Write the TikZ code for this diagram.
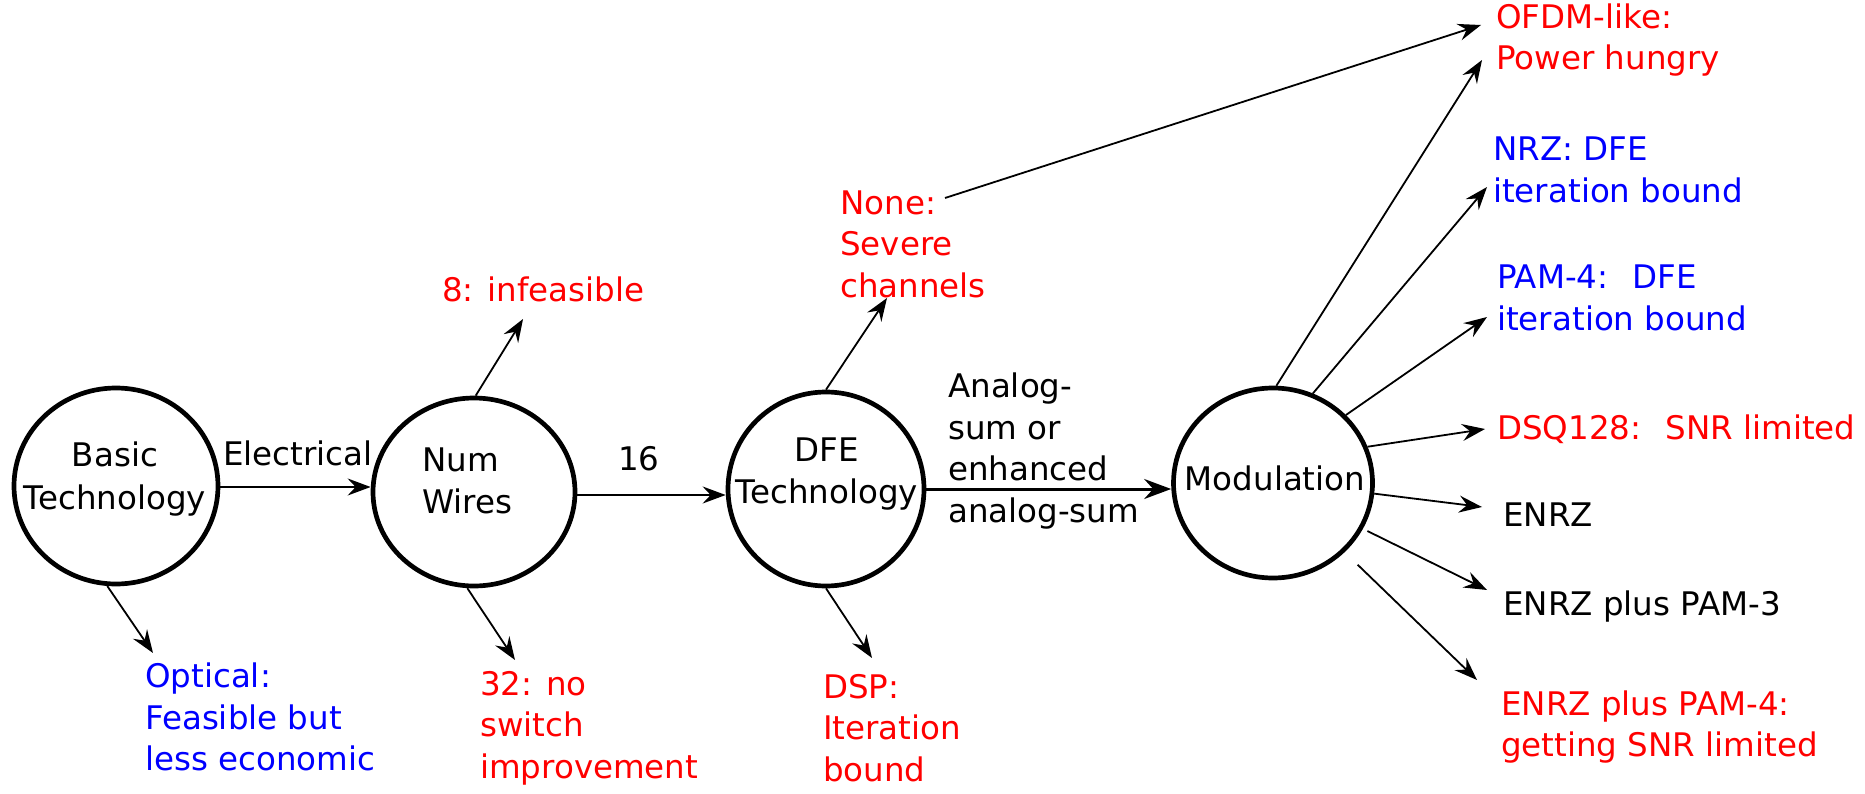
\documentclass[tikz,border=0pt]{standalone}
\usepackage{fontspec}
\setmainfont{DejaVu Sans}
\usetikzlibrary{shapes.geometric,arrows.meta}
\definecolor{tred}{RGB}{255,0,0}
\definecolor{tblue}{RGB}{0,0,255}
\begin{document}
\begin{tikzpicture}[x=1pt,y=-1pt,
  txt/.style={font=\fontsize{32.5}{41.5}\selectfont, inner sep=0pt, align=left, anchor=west},
  ctxt/.style={font=\fontsize{32.5}{42.5}\selectfont, inner sep=0pt, align=center},
  state/.style={draw, ellipse, line width=4.7pt, inner sep=0pt},
  arr/.style={-{Stealth[length=23pt,width=17pt,inset=8pt]}, line width=1.8pt},
  mainarr/.style={arr, line width=2.2pt},
  bigarr/.style={-{Stealth[length=27pt,width=20pt,inset=9pt]}, line width=3pt}]
\useasboundingbox (0,0) rectangle (1865,794);
% circles
\node[state, minimum width=204pt, minimum height=196pt] (basic) at (116,486) {};
\node[state, minimum width=202pt, minimum height=188pt] (wires) at (474,492) {};
\node[state, minimum width=196pt, minimum height=194pt] (dfe) at (826,489) {};
\node[state, minimum width=199pt, minimum height=190pt] (mod) at (1273,483) {};
\node[ctxt] (basict) at (115,479) {Basic\\Technology};
\node[txt] (wirest) at (422,481) {Num\\Wires};
\node[ctxt] (dfet) at (827,474) {DFE\\Technology};
\node[ctxt] (modt) at (1275,478) {Modulation};
% labels
\node[txt] (elec) at (223,453) {Electrical};
\node[txt] (sixteen) at (618,459) {16};
\node[txt] (analog) at (948,451) {Analog-\\sum or\\enhanced\\analog-sum};
% outcomes
\node[txt, text=tblue] (optical) at (145,717) {Optical:\\Feasible but\\less economic};
\node[txt, text=tred] (thirtytwo) at (480,728) {32: no\\switch\\improvement};
\node[txt, text=tred] (eight) at (442,289) {8: infeasible};
\node[txt, text=tred] (none) at (840,244) {None:\\Severe\\channels};
\node[txt, text=tred] (dsp) at (823,728) {DSP:\\Iteration\\bound};
\node[txt, text=tred] (ofdm) at (1496,40) {OFDM-like:\\Power hungry};
\node[txt, text=tblue] (nrz) at (1493,170) {NRZ: DFE\\iteration bound};
\node[txt, text=tblue] (pamfour) at (1497,298) {PAM-4:~ DFE\\iteration bound};
\node[txt, text=tred] (dsq) at (1497,429) {DSQ128:~ SNR limited};
\node[txt] (enrz) at (1503,515) {ENRZ};
\node[txt] (enrzthree) at (1503,607) {ENRZ plus PAM-3};
\node[txt, text=tred] (enrzfour) at (1501,727) {ENRZ plus PAM-4:\\getting SNR limited};
% arrow end points
\coordinate (eOpt) at (153,653);
\coordinate (eEight) at (523,319);
\coordinate (eTT) at (515,660);
\coordinate (eNone) at (887,298);
\coordinate (eDsp) at (872,658);
\coordinate (sNone) at (945,198);
\coordinate (eOfdmA) at (1481,25);
\coordinate (eOfdmB) at (1482,60);
\coordinate (eNrz) at (1487,187);
\coordinate (ePam) at (1487,317);
\coordinate (eDsq) at (1485,429);
\coordinate (eEnrz) at (1482,507);
\coordinate (eThree) at (1487,590);
\coordinate (eFour) at (1477,680);
% main chain
\draw[mainarr] (basic.east |- 0,487) -- (wires.west |- 0,487);
\draw[mainarr] (wires.east |- 0,495) -- (dfe.west |- 0,495);
\draw[bigarr] (dfe.east |- 0,489) -- (mod.west |- 0,489);
% branches
\draw[arr] (basic.-95) -- (eOpt);
\draw[arr] (wires.89) -- (eEight);
\draw[arr] (wires.-94) -- (eTT);
\draw[arr] (dfe.90) -- (eNone);
\draw[arr] (dfe.-90) -- (eDsp);
\draw[arr] (sNone) -- (eOfdmA);
\draw[arr] (mod.88) -- (eOfdmB);
\draw[arr] (mod.66) -- (eNrz);
\draw[arr] (mod.43) -- (ePam);
\draw[arr] (mod.21) -- (eDsq);
\draw[arr] (mod.-6) -- (eEnrz);
\draw[arr, shorten <=5pt] (mod.-27) -- (eThree);
\draw[arr, shorten <=18pt] (mod.-44) -- (eFour);
\end{tikzpicture}
\end{document}
